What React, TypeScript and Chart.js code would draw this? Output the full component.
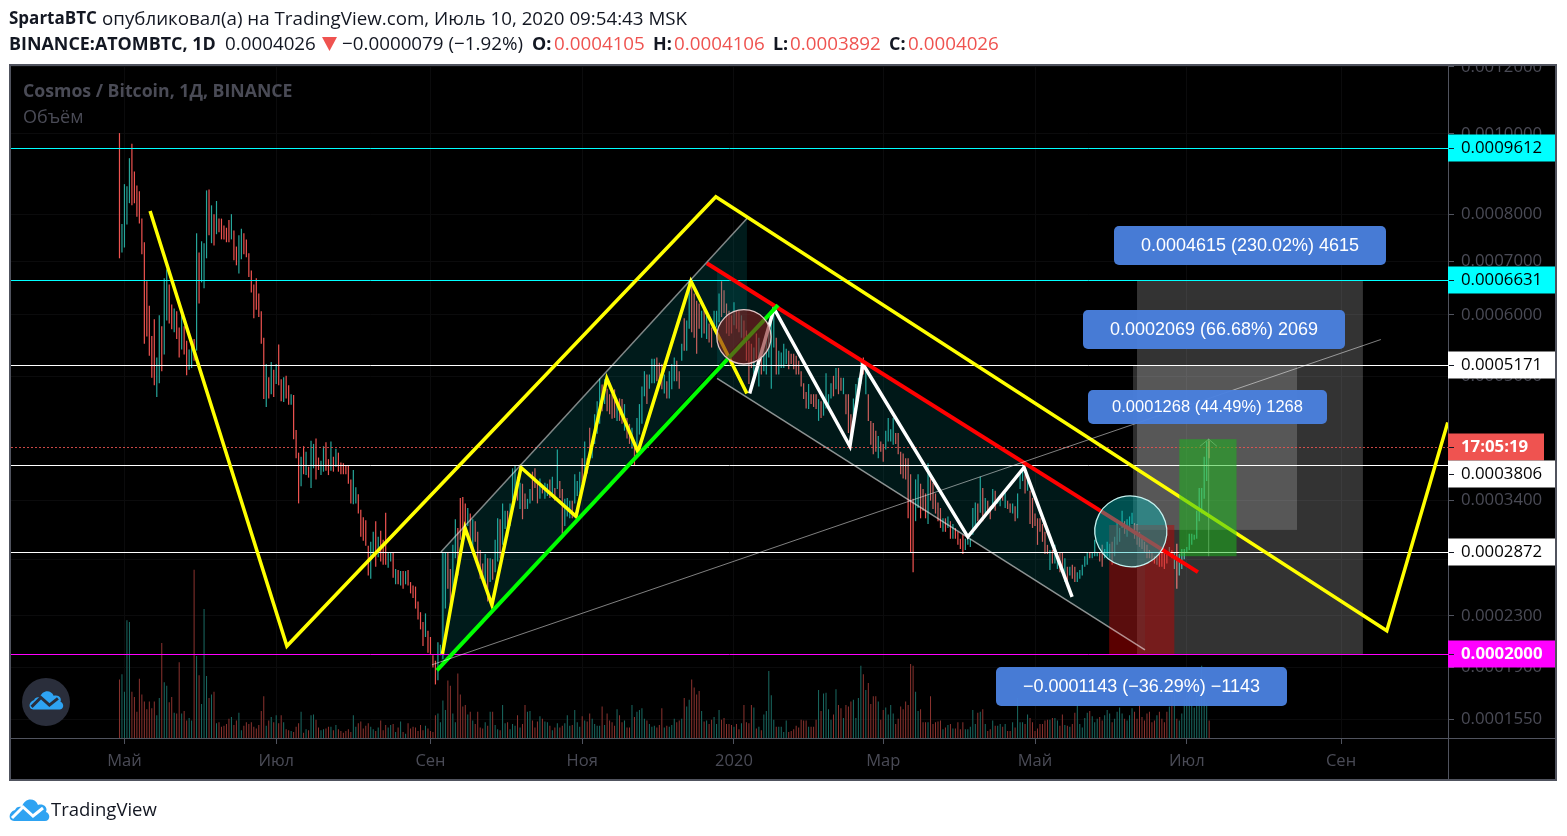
import React, { useEffect, useRef } from "react";
import { Chart, registerables } from "chart.js";

Chart.register(...registerables);

// Prices are in millionths of BTC (402.6 = 0.0004026). x is the index of the daily bar.
const highs = [
  1002,778,870,865,935,973,901,867,853,790, 739,661,616,564,592,529,599,580,667,684,
  655,618,611,606,578,603,580,556,542,559, 559,758,718,741,737,855,857,820,800,830,
  790,790,775,770,787,800,764,730,754,768, 758,745,716,682,655,667,638,606,561,519,
  499,522,510,519,550,496,499,501,487,474, 473,425,396,391,404,397,379,411,407,414,
  390,386,404,409,388,410,391,401,396,384, 383,381,381,364,375,355,347,330,322,319,
  293,297,307,318,302,308,299,327,287,287, 287,271,270,269,269,269,270,259,256,255,
  242,233,225,232,218,213,199,195,209,207, 286,286,286,271,294,320,311,343,344,337,
  332,326,320,318,307,289,276,285,281,281, 280,299,321,320,337,329,329,337,377,381,
  367,360,359,348,342,353,373,377,362,365, 356,360,359,364,367,354,400,362,353,342,
  343,340,340,370,362,373,389,410,389,428, 410,446,464,497,488,496,482,474,474,481,
  464,468,467,460,441,433,428,410,441,460, 485,508,503,503,527,527,529,521,519,503,
  493,508,519,529,524,508,551,594,590,663, 659,638,625,620,607,612,599,585,578,607,
  607,638,661,644,620,607,599,622,607,607, 599,590,573,556,551,545,568,561,545,551,
  568,578,594,611,561,540,537,551,543,540, 535,535,532,524,508,490,477,489,474,474,
  474,467,464,471,505,474,490,501,513,513, 498,498,474,474,446,468,489,498,524,529,
  513,474,437,434,424,417,410,407,424,441, 426,441,421,421,397,395,389,389,370,342,
  364,370,359,353,348,383,365,360,348,338, 332,321,321,323,318,315,311,307,300,304,
  300,304,300,332,338,337,367,354,343,340, 334,353,351,343,345,348,349,340,337,337,
  334,348,373,385,370,365,351,343,326,321, 321,315,307,294,289,289,294,287,287,287,
  281,273,273,275,273,268,270,275,283,287, 287,287,299,287,287,294,290,297,295,297,
  302,318,311,329,318,320,323,327,316,315, 307,300,297,294,289,287,283,283,285,286,
  290,286,292,289,287,295,285,290,290,292, 305,305,304,329,354,354,391,410,411,
];
const lows = [
  706,718,728,777,825,820,825,794,779,714, 551,563,532,498,487,470,490,508,534,590,
  585,575,570,559,529,542,534,502,510,513, 524,540,620,659,648,706,754,737,732,756,
  760,745,745,739,739,745,702,692,676,704, 714,708,669,640,594,609,596,551,467,456,
  468,474,470,489,487,464,463,468,459,459, 413,389,337,356,370,369,366,354,377,364,
  375,369,373,374,369,374,373,379,373,370, 370,370,359,337,336,337,326,302,298,293,
  265,262,283,273,282,278,275,275,272,278, 263,257,257,256,253,257,256,249,245,236,
  227,219,206,213,201,200,190,178,181,199, 196,236,253,239,244,281,265,299,304,311,
  313,297,290,297,275,262,259,259,242,259, 261,268,278,281,294,310,302,313,340,343,
  340,331,320,331,331,337,340,354,337,342, 348,342,345,343,345,340,353,343,305,313,
  323,321,321,337,345,348,359,364,371,389, 389,407,420,433,450,460,450,446,440,441,
  437,437,433,424,414,407,401,381,404,419, 433,471,460,482,490,490,493,489,481,475,
  468,468,481,493,493,482,524,540,540,576, 570,561,535,576,561,568,559,553,545,573,
  578,587,596,603,568,564,568,582,576,570, 561,551,524,489,513,503,527,485,503,508,
  503,529,482,545,503,503,513,513,519,511, 519,511,503,503,485,467,454,453,460,456,
  453,437,441,444,454,457,468,471,481,474, 479,474,446,421,410,444,450,464,489,503,
  474,437,406,394,397,389,397,385,400,410, 410,406,407,394,370,365,364,321,287,268,
  318,332,321,329,321,315,340,331,326,318, 311,307,307,311,300,300,300,294,290,285,
  289,294,292,304,311,318,327,318,326,327, 320,331,329,337,334,340,332,331,327,326,
  318,321,353,362,348,351,315,311,313,294, 307,297,285,285,270,276,276,271,268,268,
  259,256,265,262,259,259,262,265,273,275, 281,281,283,283,278,273,281,283,281,275,
  283,294,297,311,305,302,310,315,300,294, 292,290,287,281,281,278,276,275,273,273,
  271,276,285,281,271,253,265,271,280,286, 289,294,299,300,318,326,342,362,389,
];
const directions = (
  "RGGGGRRRRR"+"RRRRRGGRGG"+"RRGRRGRRGG"+"RGRGGGRGRG"+"RRRRRGRRGG"+"RRRRRRRRRG"+
  "RGRGRRGRRG"+"RRRGRGRGGR"+"RGGRRGRGRR"+"RRRRGGRRRR"+"RGGRGRRRGG"+"RGRGRGRRRR"+
  "RRRGRRRRGG"+"GGRRGGRRRR"+"GRGRRRRGRG"+"RGGRGGRGGG"+"RGRRGGRRRG"+"RGGRGRGRRG"+
  "GGRGGGRGRR"+"GGGGRGRRRR"+"GRRGRRGRGG"+"GGRGGGRRRG"+"RGGGRRGRGG"+"RRRRGRGRRG"+
  "GGRRRRRGRR"+"GRRRRGRGRG"+"GGGGRGGGGR"+"RRRRRRRGRR"+"RGRGGGGRGR"+"RGRRRGGGGR"+
  "GRRRRGRRGG"+"GGRRRRRRRR"+"GGRRRGRRRR"+"RGRGRGRRRR"+"GGGGGRGRGR"+"RGRGGRGRRG"+
  "RGGGRGRRRR"+"RRRRGRGGRR"+"GRGRRGGGGG"+"RGGGRRGGGR"+"GGGGRGGGRR"+"RRRRRRRGRR"+
  "RRGRGRGGGG"+"GGGGGGGGR"
).split("");
const volumes = [
  67,73,53,135,133,53,47,30,68,50, 42,33,42,34,42,26,46,109,64,60,
  41,47,29,28,87,28,31,20,23,20, 193,94,72,39,148,71,46,50,53,17,
  18,13,14,16,22,24,15,20,29,9, 14,18,16,18,13,11,15,31,48,14,
  20,24,18,26,17,26,18,10,9,8, 7,13,17,30,6,10,9,26,27,21,
  12,9,10,11,13,13,9,15,10,8, 6,8,10,7,26,13,17,19,11,14,
  17,13,10,8,12,20,9,15,12,15, 16,7,12,19,7,5,17,11,13,12,
  8,15,9,14,11,8,7,26,28,18, 43,32,66,60,28,18,74,50,36,38,
  27,30,20,16,30,12,11,18,14,30, 30,15,10,9,38,17,18,10,16,14,
  26,12,16,38,30,31,20,12,19,25, 22,19,18,14,9,12,17,12,14,17,
  26,14,15,32,18,13,25,20,19,28, 22,16,14,14,36,15,28,20,18,14,
  33,26,18,20,12,12,38,24,30,32, 34,22,20,16,13,14,12,15,34,12,
  14,13,15,22,18,20,22,46,36,44, 67,58,50,54,31,19,20,16,21,24,
  16,32,21,23,16,16,15,13,16,10, 17,38,18,17,38,35,11,13,9,27,
  31,77,49,21,13,13,13,7,20,7, 8,10,14,12,21,20,20,13,13,13,
  21,55,31,51,52,33,21,27,56,38, 34,23,38,36,42,44,23,46,83,73,
  55,63,39,48,48,42,21,32,35,27, 38,28,16,22,36,33,42,38,85,83,
  53,31,33,18,18,18,48,16,18,19, 20,10,12,15,16,11,11,18,10,18,
  10,10,13,32,16,29,30,33,16,8, 10,20,14,14,16,13,16,8,8,18,
  12,46,18,18,16,27,23,18,8,11, 16,16,20,21,21,23,23,20,14,27,
  15,14,13,16,29,39,16,12,23,29, 31,25,18,22,24,20,26,32,28,18,
  22,30,35,28,22,20,26,34,30,22, 38,24,20,28,30,18,20,26,30,22,
  18,30,36,55,60,22,20,28,45,55, 60,40,35,60,55,83,70,40,20,
];

const priceTicks = [1200, 1000, 800, 700, 600, 500, 340, 280, 230, 190, 155];
const timeTickBars = [2, 63, 125, 186, 247, 307, 368, 429, 491];
const timeTickLabels = ["Май", "Июл", "Сен", "Ноя", "2020", "Мар", "Май", "Июл", "Сен"];

const levelCyan = [961.2, 663.1];
const levelWhite = [517.1, 380.6, 287.2];
const levelMagenta = [200];
const lastPrice = 402.6;

const bigYellowPath = [[12.3, 807], [67.3, 206], [239.7, 840], [509.4, 218], [533.9, 435]];
const yellowZigzag = [[129.8, 200], [138.9, 311], [149.7, 239], [161.4, 378], [183.5, 323], [195.9, 497], [208.4, 397], [229.7, 661], [252.2, 475]];
const whiteZigzag = [[253.3, 475], [263.1, 611], [293.6, 404], [298.8, 519], [341, 302], [363.6, 378], [382.9, 246]];
const greenTrend = [[127.6, 188], [264.7, 617]];
const redTrend = [[236.1, 696], [433.5, 268]];
const longGray = [[125.6, 192], [507, 558]];
const channelUpTop = [[129.2, 287], [252.2, 790]];
const channelDownBottom = [[240.2, 497], [412.2, 203]];
const channelUpFill = [[129.2, 287], [252.2, 790], [252.2, 568], [129.2, 191]];
const channelDownFill = [[240.2, 684], [412.2, 300], [412.2, 203], [240.2, 497]];
const arrowShaft = [[437.8, 283], [437.8, 413]];
const arrowHead = [[434.3, 404], [437.8, 413], [441.1, 404]];

// [left bar, right bar, low price, high price]
const grayBoxOuter = [409, 499.8, 200, 663];
const grayBoxInner = [407.4, 473.3, 309, 517];
const redBox = [397.8, 424, 200, 314];
const greenBox = [426, 449, 283, 413];
const redCircle = [240.1, 261.9, 519, 609];
const tealCircle = [392, 421, 273, 345];

const infoLabels = [
  { text: "0.0004615 (230.02%) 4615", box: [1114, 226, 272, 39], size: 18 },
  { text: "0.0002069 (66.68%) 2069", box: [1083, 310, 262, 39], size: 18 },
  { text: "0.0001268 (44.49%) 1268", box: [1088, 390, 239, 34], size: 16.5 },
  { text: "−0.0001143 (−36.29%) −1143", box: [996, 667, 291, 39], size: 18 },
];
const priceTags = [
  { text: "0.0009612", price: 961.2, bg: "#00ffff", fg: "#000", bold: false, shift: 0 },
  { text: "0.0006631", price: 663.1, bg: "#00ffff", fg: "#000", bold: false, shift: 0 },
  { text: "0.0005171", price: 517.1, bg: "#ffffff", fg: "#000", bold: false, shift: 0 },
  { text: "17:05:19", price: 402.6, bg: "#ef5350", fg: "#fff", bold: true, shift: 0, short: true },
  { text: "0.0003806", price: 380.6, bg: "#ffffff", fg: "#000", bold: false, shift: 9 },
  { text: "0.0002872", price: 287.2, bg: "#ffffff", fg: "#000", bold: false, shift: 0 },
  { text: "0.0002000", price: 200, bg: "#ff00ff", fg: "#fff", bold: true, shift: 0 },
];

const OFFSET = 100;
const AXIS_COLOR = "#50535e";
const MUTED = "#4a4b56";
const UI_FONT = '"Open Sans", sans-serif';
const CLOUD = "M5 24C-1 24 -1 15 6 13C7 10 10 9 13 10C15 1 26 0 29 8C35 6 39 11 37 15C42 17 41 24 36 24Z";
const CLOUD_LINE = "M3 21L14 10L24 19L34 11";

const pts = (arr: number[][]) => arr.map(([x, y]) => ({ x, y: y + OFFSET }));
const X_MIN = -43.6;
const X_MAX = 534;

function lineSet(label: string, data: any[], color: string, width: number, extra: any = {}) {
  return { type: "line", label, data, borderColor: color, borderWidth: width, pointRadius: 0, tension: 0, fill: false, order: 1, borderCapStyle: "butt", borderJoinStyle: "miter", yAxisID: "y", ...extra };
}

function boxPath(chart: any, b: number[], color: string) {
  const { x, y } = chart.scales;
  const l = x.getPixelForValue(b[0]);
  const r = x.getPixelForValue(b[1]);
  const bot = y.getPixelForValue(b[2] + OFFSET);
  const top = y.getPixelForValue(b[3] + OFFSET);
  chart.ctx.fillStyle = color;
  chart.ctx.fillRect(l, top, r - l, bot - top);
}
function polyFill(chart: any, poly: number[][], color: string) {
  const { x, y } = chart.scales;
  const c = chart.ctx;
  c.beginPath();
  poly.forEach(([a, b], i) => {
    const px = x.getPixelForValue(a);
    const py = y.getPixelForValue(b + OFFSET);
    if (i === 0) c.moveTo(px, py); else c.lineTo(px, py);
  });
  c.closePath();
  c.fillStyle = color;
  c.fill();
}
function ellipse(chart: any, b: number[], rot: number, fill: string, stroke: string) {
  const { x, y } = chart.scales;
  const c = chart.ctx;
  const l = x.getPixelForValue(b[0]);
  const r = x.getPixelForValue(b[1]);
  const bot = y.getPixelForValue(b[2] + OFFSET);
  const top = y.getPixelForValue(b[3] + OFFSET);
  c.beginPath();
  c.ellipse((l + r) / 2, (top + bot) / 2, (r - l) / 2, (bot - top) / 2, rot, 0, Math.PI * 2);
  c.fillStyle = fill;
  c.fill();
  c.lineWidth = 1.3;
  c.strokeStyle = stroke;
  c.stroke();
}
// Horizontal price levels: placed by the price scale, snapped to a whole pixel row so they stay crisp.
function levelLine(chart: any, price: number, color: string, dash: number[] = []) {
  const { y } = chart.scales;
  const c = chart.ctx;
  const a = chart.chartArea;
  const py = Math.round(y.getPixelForValue(price + OFFSET)) + 0.5;
  c.beginPath();
  c.setLineDash(dash);
  c.moveTo(a.left, py);
  c.lineTo(a.right, py);
  c.lineWidth = 1;
  c.strokeStyle = color;
  c.stroke();
  c.setLineDash([]);
}

const overlayPlugin = {
  id: "overlay",
  beforeDraw(chart: any) {
    const c = chart.ctx;
    c.save();
    c.fillStyle = "#000";
    c.fillRect(10, 65, 1546, 715);
    c.restore();
  },
  beforeDatasetsDraw(chart: any) {
    const c = chart.ctx;
    c.save();
    c.textBaseline = "middle";
    c.textAlign = "left";
    c.fillStyle = MUTED;
    c.font = `bold 17.7px ${UI_FONT}`;
    c.fillText("Cosmos / Bitcoin, 1Д, BINANCE", 23, 92);
    c.font = `18px ${UI_FONT}`;
    c.fillText("Объём", 23, 118);
    c.restore();
  },
  afterDatasetDraw(chart: any, args: any) {
    const ds = chart.data.datasets[args.index];
    const c = chart.ctx;
    if (ds.label === "candles") {
      c.save();
      boxPath(chart, grayBoxOuter, "rgba(255,255,255,0.2)");
      boxPath(chart, grayBoxInner, "rgba(255,255,255,0.18)");
      polyFill(chart, channelUpFill, "rgba(0,170,170,0.16)");
      polyFill(chart, channelDownFill, "rgba(0,170,170,0.14)");
      boxPath(chart, redBox, "rgba(200,0,0,0.45)");
      levelLine(chart, lastPrice, "rgba(239,83,80,0.85)", [2, 2]);
      levelCyan.forEach((v) => levelLine(chart, v, "#00ffff"));
      levelWhite.forEach((v) => levelLine(chart, v, "#ffffff"));
      levelMagenta.forEach((v) => levelLine(chart, v, "#ff00ff"));
      c.restore();
    }
  },
  afterDatasetsDraw(chart: any) {
    const c = chart.ctx;
    c.save();
    const a = chart.chartArea;
    c.beginPath();
    c.rect(a.left, a.top, a.right - a.left, a.bottom - a.top);
    c.clip();
    boxPath(chart, greenBox, "rgba(24,190,24,0.5)");
    ellipse(chart, redCircle, 0, "rgba(130,30,30,0.6)", "#e3c6c6");
    ellipse(chart, tealCircle, 0.3, "rgba(0,190,190,0.42)", "#c4f2f0");
    c.restore();

    // logo badge
    c.save();
    c.beginPath();
    c.arc(46, 702, 24, 0, Math.PI * 2);
    c.fillStyle = "#2a2e3b";
    c.fill();
    c.translate(29, 689);
    c.scale(0.85, 0.85);
    c.fillStyle = "#2ea3f2";
    c.fill(new Path2D(CLOUD));
    c.strokeStyle = "#2a2e3b";
    c.lineWidth = 3.5;
    c.stroke(new Path2D(CLOUD_LINE));
    c.restore();

    // info labels
    c.save();
    c.textAlign = "center";
    c.textBaseline = "middle";
    infoLabels.forEach((l) => {
      const [bx, by, bw, bh] = l.box;
      c.beginPath();
      c.roundRect(bx, by, bw, bh, 5);
      c.fillStyle = "rgba(74,128,222,0.96)";
      c.fill();
      c.fillStyle = "#fff";
      c.font = `${l.size}px "Liberation Sans", Arial, sans-serif`;
      c.fillText(l.text, bx + bw / 2, by + bh / 2 + 0.5);
    });
    c.restore();
  },
  afterDraw(chart: any) {
    const c = chart.ctx;
    const y = chart.scales.y;
    c.save();
    c.strokeStyle = AXIS_COLOR;
    c.lineWidth = 1;
    c.beginPath();
    c.moveTo(11, 738.5);
    c.lineTo(1555, 738.5);
    c.moveTo(1448.5, 66);
    c.lineTo(1448.5, 780);
    c.stroke();

    c.textBaseline = "middle";
    c.textAlign = "left";
    priceTags.forEach((t: any) => {
      const base = y.getPixelForValue(t.price + OFFSET);
      const cy = Math.round(base + t.shift);
      c.fillStyle = t.bg;
      c.fillRect(1448, cy - 13.5, t.short ? 96 : 108, 27);
      c.fillStyle = "#131722";
      c.fillRect(1449, cy, 5, 1);
      c.fillStyle = t.fg;
      c.font = `${t.bold ? "bold " : ""}16.8px ${UI_FONT}`;
      c.fillText(t.text, 1461, cy + 0.5);
    });

    c.clearRect(0, 0, 1567, 64);
    c.strokeStyle = AXIS_COLOR;
    c.lineWidth = 2;
    c.strokeRect(10, 65, 1546, 715);
    c.restore();
  },
};

const textBase: React.CSSProperties = {
  position: "absolute",
  whiteSpace: "pre",
  fontFamily: UI_FONT,
  lineHeight: "24px",
  color: "#131722",
};
const RED = "#ef5350";

function Piece({ x, y, bold, color, size, children }: any) {
  return (
    <span style={{ ...textBase, left: x, top: y, fontSize: size || 18.8, fontWeight: bold ? 700 : 400, color: color || "#131722" }}>{children}</span>
  );
}

export default function App() {
  const ref = useRef<HTMLCanvasElement | null>(null);

  useEffect(() => {
    if (!ref.current) return;
    const up = "#26a69a";
    const down = "#ef5350";
    const candleColors = directions.map((d) => (d === "G" ? up : down));
    const volumeColors = directions.map((d) => (d === "G" ? "#1a6b63" : "#8c332f"));
    const candleData = highs.map((h, i) => ({ x: i, y: [lows[i] + OFFSET, h + OFFSET] }));
    const volumeData = volumes.map((v, i) => ({ x: i, y: v }));

    const datasets: any[] = [
      { type: "bar", label: "volume", data: volumeData, backgroundColor: volumeColors, barThickness: 1, yAxisID: "vol", order: 5, inflateAmount: 0, grouped: false },
      { type: "bar", label: "candles", data: candleData, backgroundColor: candleColors, barThickness: 1.2, yAxisID: "y", order: 4, inflateAmount: 0, grouped: false },
      lineSet("longGray", pts(longGray), "rgba(255,255,255,0.5)", 1),
      lineSet("channelUpTop", pts(channelUpTop), "rgba(255,255,255,0.5)", 1.5),
      lineSet("channelDownBottom", pts(channelDownBottom), "rgba(255,255,255,0.55)", 1.5),
      lineSet("green", pts(greenTrend), "#00ff00", 4),
      lineSet("red", pts(redTrend), "#ff0000", 4),
      lineSet("yellowBig", pts(bigYellowPath), "#ffff00", 3.5),
      lineSet("yellowZig", pts(yellowZigzag), "#ffff00", 3.5),
      lineSet("whiteZig", pts(whiteZigzag), "#ffffff", 3.5),
      lineSet("arrowShaft", pts(arrowShaft), "rgba(255,255,255,0.45)", 1),
      lineSet("arrowHead", pts(arrowHead), "rgba(255,255,255,0.45)", 1),
    ];

    const chart = new Chart(ref.current, {
      type: "bar",
      data: { datasets },
      plugins: [overlayPlugin],
      options: {
        animation: false,
        responsive: false,
        devicePixelRatio: 1,
        layout: { padding: { left: 11, right: 11, top: 66, bottom: 56 } },
        plugins: { legend: { display: false }, tooltip: { enabled: false }, title: { display: false } },
        scales: {
          x: {
            type: "linear",
            min: X_MIN,
            max: X_MAX,
            offset: false,
            afterBuildTicks: (s: any) => { s.ticks = timeTickBars.map((value) => ({ value })); },
            afterFit: (s: any) => { s.height = 42; },
            ticks: {
              autoSkip: false,
              maxRotation: 0,
              minRotation: 0,
              color: MUTED,
              font: { family: UI_FONT, size: 16.5 },
              padding: 7,
              callback: (v: any) => {
                const i = timeTickBars.indexOf(Number(v));
                return i >= 0 ? timeTickLabels[i] : "";
              },
            },
            grid: { offset: false, color: "#0b0b0c", tickColor: AXIS_COLOR, tickLength: 6 },
            border: { color: AXIS_COLOR },
          },
          y: {
            type: "logarithmic",
            position: "right",
            min: 243.2,
            max: 1303,
            bounds: "data",
            afterBuildTicks: (s: any) => { s.ticks = priceTicks.map((v) => ({ value: v + OFFSET })); },
            afterFit: (s: any) => { s.width = 108; },
            ticks: {
              autoSkip: false,
              color: MUTED,
              font: { family: UI_FONT, size: 16.8 },
              padding: 7,
              callback: (v: any) => ((Number(v) - OFFSET) * 1e-6).toFixed(7),
            },
            grid: { color: "#0b0b0c", tickColor: AXIS_COLOR, tickLength: 6 },
            border: { color: AXIS_COLOR },
          },
          vol: { type: "linear", display: false, position: "left", min: 0, max: 771, grid: { display: false } },
        },
      } as any,
    } as any);
    return () => chart.destroy();
  }, []);

  return (
    <div style={{ position: "absolute", left: 0, top: 0, width: 1567, height: 836, background: "#fff", overflow: "hidden" }}>
      <canvas ref={ref} width={1567} height={836} style={{ position: "absolute", left: 0, top: 0, display: "block" }} />
      <Piece x={9} y={6} bold size={17}>SpartaBTC</Piece>
      <Piece x={102} y={6} size={18.75}>опубликовал(а) на TradingView.com, Июль 10, 2020 09:54:43 MSK</Piece>
      <Piece x={9} y={31} bold size={17.9}>BINANCE:ATOMBTC, 1D</Piece>
      <Piece x={225} y={31}>0.0004026</Piece>
      <svg style={{ position: "absolute", left: 322, top: 37 }} width={15} height={14}>
        <polygon points="0,0 15,0 7.5,14" fill={RED} />
      </svg>
      <Piece x={342} y={31}>−0.0000079 (−1.92%)</Piece>
      <Piece x={532} y={31} bold size={17.9}>O:</Piece>
      <Piece x={554} y={31} color={RED}>0.0004105</Piece>
      <Piece x={653} y={31} bold size={17.9}>H:</Piece>
      <Piece x={674} y={31} color={RED}>0.0004106</Piece>
      <Piece x={773} y={31} bold size={17.9}>L:</Piece>
      <Piece x={790} y={31} color={RED}>0.0003892</Piece>
      <Piece x={889} y={31} bold size={17.9}>C:</Piece>
      <Piece x={908} y={31} color={RED}>0.0004026</Piece>
      <svg style={{ position: "absolute", left: 9, top: 797 }} width={41} height={26} viewBox="0 0 41 26">
        <path d={CLOUD} fill="#2ea3f2" />
        <path d={CLOUD_LINE} fill="none" stroke="#fff" strokeWidth={3} />
      </svg>
      <span style={{ ...textBase, left: 51, top: 797, fontSize: 18.5 }}>TradingView</span>
    </div>
  );
}
